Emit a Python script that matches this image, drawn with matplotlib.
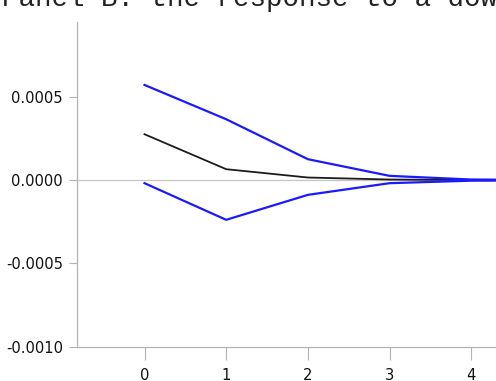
import matplotlib
matplotlib.use('Agg')
import matplotlib.pyplot as plt
from matplotlib import font_manager

# --- Données -------------------------------------------------
horizons = [0, 1, 2, 3, 4, 5]
reponse  = [0.000276, 0.000066, 0.000016, 0.000004, 0.000001, 0.0]
borne_hi = [0.000572, 0.000366, 0.000126, 0.000026, 0.000004, 0.000001]
borne_lo = [-0.000018, -0.000238, -0.000088, -0.000018, -0.000003, -0.000001]
yticks   = [-0.0010, -0.0005, 0.0, 0.0005]
ytick_labels = ["-0.0010", "-0.0005", "0.0000", "0.0005"]
titre = "Panel B: the response to a downturn"

# police étroite si disponible, sinon Liberation Sans plus petite
etroites = [f for f in font_manager.fontManager.ttflist
            if ("Narrow" in f.name or "Condensed" in f.name
                or f.stretch in ("condensed", 400, "semi-condensed"))
            and f.style == "normal" and f.weight in (400, "normal", "regular")]
if etroites:
    police = {"fname": etroites[0].fname, "size": 11.8}
else:
    police = {"family": "Liberation Sans", "size": 11}

W, H = 496, 381
fig = plt.figure(figsize=(W / 100, H / 100), dpi=100)
fig.patch.set_facecolor("white")

# axe étendu au-delà du bord droit (image rognée)
x0, x1 = -0.83, 5.5
left_px, bottom_px, top_px = 76.7, 346.7, 22.0
px_unit = 81.7
width_px = (x1 - x0) * px_unit
ax = fig.add_axes([left_px / W, (H - bottom_px) / H,
                   width_px / W, (bottom_px - top_px) / H])

gris = "#b4b4b4"
ax.axhline(0, color="#c4c4c4", lw=0.9, zorder=1)
ax.plot(horizons, borne_hi, color="#1a1aff", lw=1.6, zorder=3)
ax.plot(horizons, borne_lo, color="#1a1aff", lw=1.6, zorder=3)
ax.plot(horizons, reponse, color="#1c1c1c", lw=1.3, zorder=2)

ax.set_xlim(x0, x1)
ax.set_ylim(-0.0010, 0.00095)
ax.set_xticks(horizons)
ax.set_yticks(yticks)
ax.set_yticklabels(ytick_labels)

fp = font_manager.FontProperties(**police)
for lab in ax.get_xticklabels() + ax.get_yticklabels():
    lab.set_fontproperties(fp)
    lab.set_color("#111111")

ax.tick_params(axis="y", length=6, width=0.8, color=gris, pad=4)
ax.tick_params(axis="x", length=9, width=0.8, color=gris, pad=6)
ax.spines[["top", "right"]].set_visible(False)
for s in ["left", "bottom"]:
    ax.spines[s].set_color(gris)
    ax.spines[s].set_linewidth(0.9)

fig.text(2 / W, 1 - 6.5 / H, titre, family="Liberation Mono",
         fontsize=19.8, va="baseline", ha="left", color="#222222")

fig.savefig("out.png", dpi=100, facecolor="white")
